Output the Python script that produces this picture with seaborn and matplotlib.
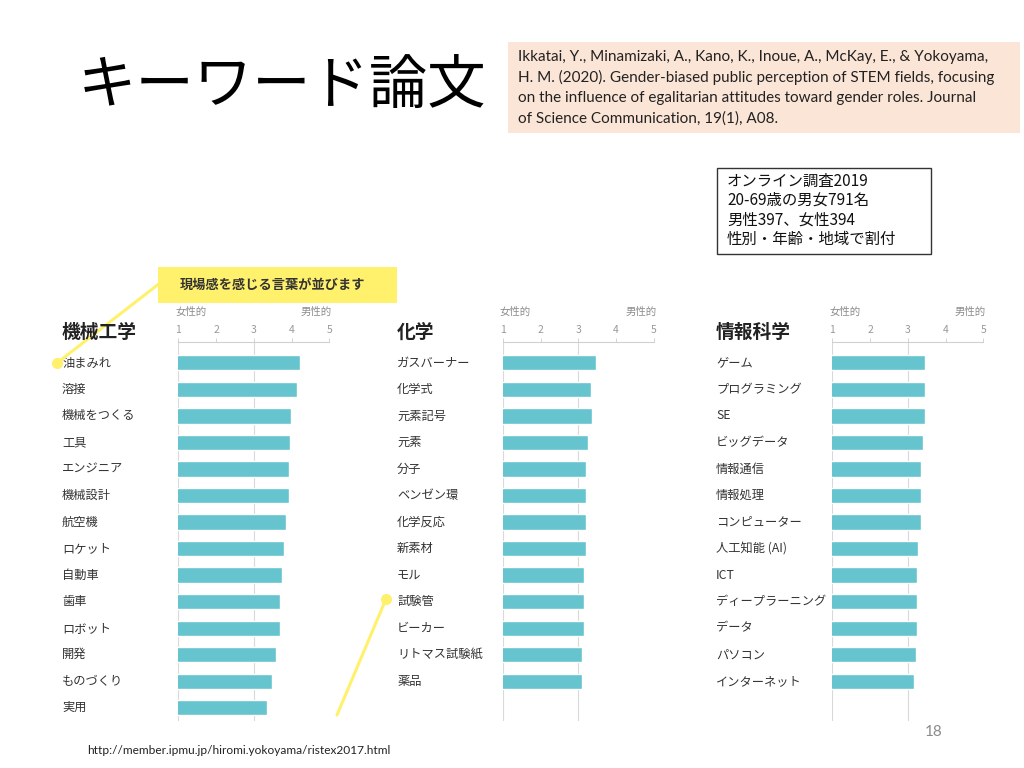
import matplotlib
matplotlib.use("Agg")
import matplotlib.pyplot as plt
import matplotlib.transforms as mtransforms
from matplotlib.patches import Rectangle
from matplotlib.lines import Line2D
import seaborn as sns
import pandas as pd

# ----------------------------
# Data
# ----------------------------
mech_words = ["油まみれ", "溶接", "機械をつくる", "工具", "エンジニア", "機械設計", "航空機",
              "ロケット", "自動車", "歯車", "ロボット", "開発", "ものづくり", "実用"]
mech_scores = [4.22, 4.14, 3.99, 3.97, 3.93, 3.93, 3.85, 3.81, 3.76, 3.69, 3.69, 3.58, 3.48, 3.36]

chem_words = ["ガスバーナー", "化学式", "元素記号", "元素", "分子", "ベンゼン環", "化学反応",
              "新素材", "モル", "試験管", "ビーカー", "リトマス試験紙", "薬品"]
chem_scores = [3.47, 3.34, 3.36, 3.26, 3.21, 3.21, 3.21, 3.19, 3.16, 3.16, 3.16, 3.09, 3.09]

info_words = ["ゲーム", "プログラミング", "SE", "ビッグデータ", "情報通信", "情報処理", "コンピューター",
              "人工知能 (AI)", "ICT", "ディープラーニング", "データ", "パソコン", "インターネット"]
info_scores = [3.46, 3.46, 3.46, 3.39, 3.35, 3.35, 3.35, 3.28, 3.24, 3.24, 3.24, 3.21, 3.17]

panel_titles = ["機械工学", "化学", "情報科学"]
scale_ticks = [1, 2, 3, 4, 5]

citation_lines = [
    "Ikkatai, Y., Minamizaki, A., Kano, K., Inoue, A., McKay, E., & Yokoyama,",
    "H. M. (2020). Gender-biased public perception of STEM fields, focusing",
    "on the influence of egalitarian attitudes toward gender roles. Journal",
    "of Science Communication, 19(1), A08.",
]
survey_lines = ["オンライン調査2019", "20-69歳の男女791名", "男性397、女性394", "性別・年齢・地域で割付"]

BAR_COLOR = "#66C4CF"
YELLOW = "#FFF16B"
W, H = 1024, 768

sns.set_style("white")
plt.rcParams["font.family"] = ["Noto Sans CJK JP", "DejaVu Sans"]

fig = plt.figure(figsize=(10.24, 7.68), dpi=100)


def fx(x):
    return x / W


def fy(y):
    return 1 - y / H


# title
fig.text(fx(78), fy(86), "キーワード論文", fontsize=42, color="black", ha="left", va="center")

# citation box
fig.patches.append(Rectangle((fx(508), fy(133)), fx(1020 - 508), (133 - 41.7) / H,
                             transform=fig.transFigure, facecolor="#FBE5D6", edgecolor="none"))
for i, line in enumerate(citation_lines):
    fig.text(fx(518), fy(56.5 + i * 20.6), line, family=["Lato", "DejaVu Sans"],
             fontsize=11, color="#222222", ha="left", va="center")

# survey box
fig.patches.append(Rectangle((fx(716.7), fy(254.3)), fx(931 - 716.7), (254.3 - 168.3) / H,
                             transform=fig.transFigure, facecolor="white", edgecolor="#333333",
                             linewidth=1.0))
for i, line in enumerate(survey_lines):
    fig.text(fx(727), fy(181 + i * 19.4), line, fontsize=11.1, color="#111111",
             ha="left", va="center")

# callout
fig.patches.append(Rectangle((fx(158), fy(303.3)), fx(396.7 - 158), (303.3 - 266.7) / H,
                             transform=fig.transFigure, facecolor=YELLOW, edgecolor="none"))
fig.text(fx(180), fy(285), "現場感を感じる言葉が並びます", fontsize=9.5, weight="bold",
         color="#333333", ha="left", va="center")

# ----------------------------
# Bar panels
# ----------------------------
panels = [
    (mech_words, mech_scores, 178.3, 329.3, 62),
    (chem_words, chem_scores, 502.7, 654.0, 397),
    (info_words, info_scores, 832.3, 983.3, 716),
]
top_px, bottom_px = 341.7, 720.9

for (words, scores, left, right, label_x), title in zip(panels, panel_titles):
    ax = fig.add_axes([fx(left), fy(bottom_px), fx(right - left), (bottom_px - top_px) / H])
    df = pd.DataFrame({"word": words, "score": scores})
    sns.barplot(data=df, x="score", y="word", orient="h", color=BAR_COLOR,
                saturation=1, width=0.57, ax=ax)
    ax.set_xlim(1, 5)
    ax.set_ylim(13.5, -0.8)
    ax.set_xlabel("")
    ax.set_ylabel("")
    ax.set_yticks([])
    for v in (1, 3):
        ax.axvline(v, color="#d9d9d9", linewidth=0.8, zorder=0)
    ax.xaxis.tick_top()
    ax.set_xticks(scale_ticks)
    ax.tick_params(axis="x", length=3, width=0.6, color="#cccccc", labelcolor="#999999",
                   labelsize=7.5, pad=2)
    for name, sp in ax.spines.items():
        sp.set_visible(name == "top")
    ax.spines["top"].set_color("#d0d0d0")
    ax.spines["top"].set_linewidth(0.8)
    ax.set_facecolor("none")

    ax.annotate("女性的", xy=(0, 1), xycoords="axes fraction", xytext=(-2, 21.6),
                textcoords="offset points", ha="left", va="center", fontsize=7.5, color="#8c8c8c")
    ax.annotate("男性的", xy=(1, 1), xycoords="axes fraction", xytext=(2, 21.6),
                textcoords="offset points", ha="right", va="center", fontsize=7.5, color="#8c8c8c")

    trans = mtransforms.blended_transform_factory(fig.transFigure, ax.transData)
    for i, w in enumerate(words):
        ax.text(fx(label_x), i, w, transform=trans, ha="left", va="center",
                fontsize=8.8, color="#333333")
    fig.text(fx(label_x), fy(332), title, fontsize=13.5, weight="bold", color="#222222",
             ha="left", va="center")

# yellow pointer lines
fig.add_artist(Line2D([fx(160), fx(57)], [fy(283), fy(363)], color=YELLOW, linewidth=2.2,
                      transform=fig.transFigure))
fig.add_artist(Line2D([fx(57)], [fy(363)], marker="o", markersize=7, color=YELLOW,
                      transform=fig.transFigure))
fig.add_artist(Line2D([fx(337), fx(386)], [fy(715), fy(599)], color=YELLOW, linewidth=2.2,
                      transform=fig.transFigure))
fig.add_artist(Line2D([fx(386)], [fy(599)], marker="o", markersize=7, color=YELLOW,
                      transform=fig.transFigure))

# footer
fig.text(fx(87), fy(750), "http://member.ipmu.jp/hiromi.yokoyama/ristex2017.html",
         family=["Lato", "DejaVu Sans"], fontsize=8.6, color="#222222", ha="left", va="center")
fig.text(fx(934), fy(732), "18", family=["Lato", "DejaVu Sans"], fontsize=11,
         color="#8c8c8c", ha="center", va="center")

fig.savefig("out.png", dpi=100)
